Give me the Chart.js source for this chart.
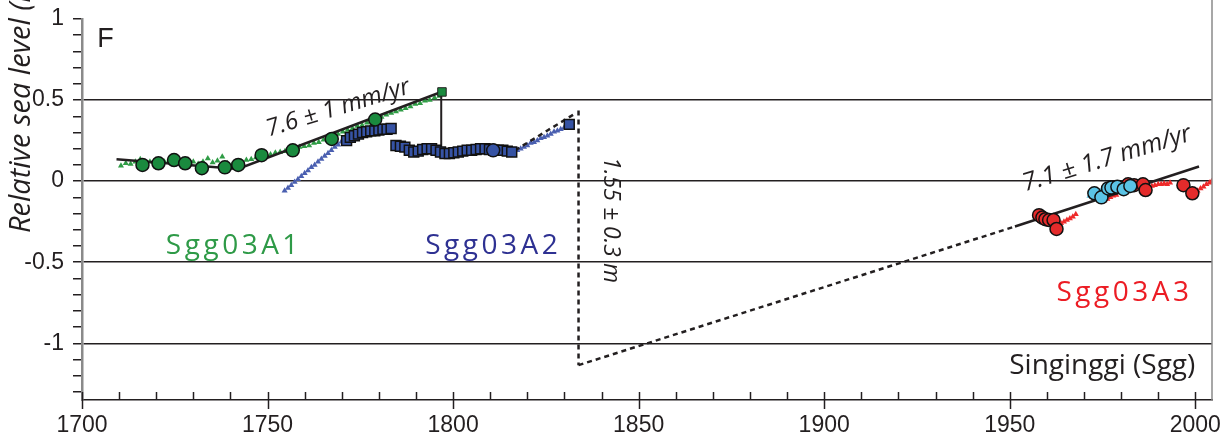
<!DOCTYPE html>
<html>
<head>
<meta charset="utf-8">
<script src="https://cdn.jsdelivr.net/npm/chart.js@4.4.0/dist/chart.umd.min.js"></script>
<style>
body{margin:0;background:#fff;}
</style>
</head>
<body>
<canvas id="myChart" width="1227" height="442"></canvas>
<script>
/** DATA */
// Sgg03A1 (green)
var a1Tri = [[1710.5,0.095],[1711.8,0.11],[1713.1,0.105],[1714.4,0.12],[1715.7,0.135],[1717,0.115],[1718.3,0.12],[1719.6,0.11],[1720.9,0.125],[1722.2,0.12],[1723.5,0.13],[1724.8,0.115],[1726.1,0.125],[1727.4,0.11],[1728.7,0.13],[1730,0.12],[1731.3,0.105],[1732.6,0.12],[1733.9,0.14],[1735.2,0.115],[1736.5,0.125],[1737.8,0.15],[1739.1,0.11],[1740.4,0.10],[1741.7,0.115],[1743,0.12],[1744.3,0.13],[1745.6,0.135],[1746.9,0.145],[1748.2,0.155],[1749.5,0.16],[1750.8,0.165],[1752.1,0.175],[1753.4,0.18],[1754.7,0.185],[1756,0.19],[1757.3,0.20],[1758.6,0.21],[1759.9,0.215],[1761.2,0.22],[1762.5,0.235],[1763.8,0.24],[1765.1,0.255],[1766.4,0.26],[1767.7,0.28],[1769,0.29],[1770.3,0.305],[1771.6,0.315],[1772.9,0.325],[1774.2,0.34],[1775.5,0.345],[1776.8,0.36],[1778.1,0.375],[1779.4,0.385],[1780.7,0.395],[1782,0.41],[1783.3,0.42],[1784.6,0.43],[1785.9,0.44],[1787.2,0.45],[1788.5,0.46],[1789.8,0.475],[1791.1,0.48],[1792.4,0.495],[1793.7,0.50],[1795,0.515],[1796.3,0.525]];
var a1Circ = [[1716.3,0.10],[1720.6,0.11],[1724.8,0.13],[1727.8,0.11],[1732.3,0.08],[1738.5,0.085],[1742.1,0.10],[1748.4,0.16],[1756.8,0.19],[1767.3,0.26],[1779,0.38]];
var a1End = [[1797,0.55]];
// Sgg03A2 (blue)
var a2Tri = [[1754.6,-0.06],[1755.5,-0.042],[1756.4,-0.025],[1757.3,-0.006],[1758.2,0.012],[1759.1,0.03],[1760,0.048],[1760.9,0.065],[1761.8,0.085],[1762.7,0.10],[1763.6,0.12],[1764.5,0.137],[1765.4,0.155],[1766.3,0.172],[1767.2,0.19],[1768.1,0.21],[1769,0.225],[1769.9,0.243],[1770.8,0.26],
  [1817.3,0.19],[1818.2,0.2],[1819.1,0.21],[1820,0.22],[1820.9,0.235],[1821.8,0.24],[1822.7,0.25],[1823.6,0.265],[1824.5,0.27],[1825.4,0.28],[1826.3,0.29],[1827.2,0.305],[1828.1,0.31],[1829,0.32],[1829.9,0.33],[1830.8,0.34]];
var a2Sq = [[1771.3,0.25],[1772.3,0.27],[1773.4,0.28],[1774.5,0.29],[1775.6,0.30],[1776.7,0.305],[1777.8,0.31],[1778.9,0.31],[1780,0.315],[1781.1,0.32],[1782.2,0.32],[1783.3,0.325],
  [1784.6,0.22],[1785.8,0.215],[1787,0.21],[1788.2,0.19],[1789.4,0.18],[1790.6,0.185],[1791.8,0.195],[1793,0.20],[1794.2,0.20],[1795.4,0.19],[1796.6,0.18],[1797.8,0.17],[1799,0.17],[1800.2,0.175],[1801.4,0.18],[1802.6,0.185],[1803.8,0.19],[1805,0.19],[1806.2,0.195],[1807.4,0.20],[1808.6,0.20],[1809.8,0.195],[1811,0.19],[1812.2,0.19],[1813.4,0.19],[1814.6,0.185],[1815.8,0.18],
  [1831.3,0.35]];
var a2Circ = [[1810.8,0.19]];
// Sgg03A3 (red + light blue)
var a3Tri = [[1963.8,-0.26],[1964.6,-0.25],[1965.4,-0.24],[1966.2,-0.23],[1967,-0.22],[1967.8,-0.205],[1975.5,-0.12],[1976.3,-0.11],[1977.1,-0.10],[1977.9,-0.09],[1978.7,-0.085],[1987.5,-0.04],[1988.3,-0.03],[1989.1,-0.025],[1990,-0.02],[1990.8,-0.02],[1991.6,-0.015],[1992.4,-0.02],[1993.2,-0.01],[2000.6,-0.06],[2001.4,-0.045],[2002.2,-0.035],[2003,-0.02],[2003.8,-0.01],[2004.4,0.0]];
var a3Circ = [[1957.9,-0.21],[1958.8,-0.225],[1959.6,-0.235],[1960.6,-0.24],[1961.8,-0.24],[1962.6,-0.295],[1978.5,-0.04],[1981.9,-0.02],[1983.5,-0.025],[1985.9,-0.02],[1986.6,-0.055],[1996.8,-0.025],[1999.2,-0.075]];
var a3Cyan = [[1972.8,-0.075],[1974.7,-0.10],[1976.5,-0.045],[1977.4,-0.04],[1979,-0.035],[1980.7,-0.05],[1982.5,-0.03]];
var a3CyanTri = [[1971.6,-0.09],[1972.4,-0.08],[1973.2,-0.07],[1974,-0.065],[1974.8,-0.055],[1975.6,-0.05],[1980.2,-0.025],[1981,-0.02],[1981.8,-0.015]];
// trends and offsets
var trendA1 = [[1709.3,0.135],[1742,0.075],[1796.8,0.55]];
var dropA2 = [[1796.8,0.55],[1796.8,0.19],[1816.7,0.19]];
var dashA2 = [[1816.7,0.19],[1832.4,0.41]];
var jump = [[1833.8,0.435],[1833.8,-1.135]];
var dashLink = [[1833.8,-1.135],[1951.4,-0.28]];
var trendA3 = [[1951.4,-0.28],[2001,0.09]];
// axes
var xLabels = [1700,1750,1800,1850,1900,1950,2000];
var yLabels = [1,0.5,0,-0.5,-1];
var yGrid = [0.5,0,-0.5,-1];

function pts(a){ return a.map(function(p){ return {x:p[0], y:p[1]}; }); }
function has(list, v){ return list.some(function(l){ return Math.abs(l - v) < 1e-6; }); }

function marks(a, style, r, fill, border, bw){
  return {data:pts(a), showLine:false, pointStyle:style, pointRadius:r, pointHoverRadius:r,
    backgroundColor:fill, borderColor:border, borderWidth:bw};
}
function line(a, w, dash){
  return {data:pts(a), showLine:true, pointRadius:0, pointHoverRadius:0, borderColor:'#231f20',
    borderWidth:w, borderDash:dash || [], tension:0, fill:false};
}

var ink = '#231f20';
var tickFont = {family:'Liberation Sans', size:23};

/** notes, frame and x tick marks */
var extras = {
  id:'extras',
  afterDraw:function(chart){
    var c = chart.ctx, xs = chart.scales.x, ys = chart.scales.y, area = chart.chartArea;
    c.save();
    // right frame
    c.strokeStyle = '#8a8a8a'; c.lineWidth = 1.5;
    c.beginPath(); c.moveTo(area.right, 0); c.lineTo(area.right, area.bottom); c.stroke();
    // x tick marks
    c.strokeStyle = ink; c.lineWidth = 1.5;
    xs.ticks.forEach(function(t){
      var px = Math.round(xs.getPixelForValue(t.value)) + 0.5;
      var big = has(xLabels, t.value);
      c.beginPath(); c.moveTo(px, area.bottom - 8); c.lineTo(px, area.bottom + (big ? 9 : 0)); c.stroke();
    });
    function note(txt, xv, yv, deg, font, color, align, spacing){
      c.save();
      c.translate(xs.getPixelForValue(xv), ys.getPixelForValue(yv));
      c.rotate(deg * Math.PI / 180);
      c.font = font; c.fillStyle = color; c.textAlign = align || 'center'; c.textBaseline = 'middle';
      c.letterSpacing = spacing || '0px';
      c.fillText(txt, 0, 0);
      c.restore();
    }
    note('F', 1704.1, 0.875, 0, '27px "Liberation Sans"', ink, 'left');
    note('7.6 \u00b1 1 mm/yr', 1769, 0.45, -17, 'italic 24px "Open Sans"', ink);
    note('7.1 \u00b1 1.7 mm/yr', 1976.2, 0.1375, -17, 'italic 25px "Open Sans"', ink);
    note('1.55 \u00b1 0.3 m', 1842.4, -0.24, 90, 'italic 23px "Open Sans"', ink);
    note('Sgg03A1', 1722.6, -0.4, 0, '28px "Open Sans"', '#2e9a47', 'left', '3.5px');
    note('Sgg03A2', 1792.5, -0.4, 0, '28px "Open Sans"', '#2e3192', 'left', '3.5px');
    note('Sgg03A3', 1962.6, -0.69, 0, '28px "Open Sans"', '#ec1c24', 'left', '3.5px');
    note('Singinggi (Sgg)', 2000, -1.14, 0, '28px "Open Sans"', ink, 'right');
    // y title (partly off the top, as in the figure)
    c.save();
    c.translate(30, ys.getPixelForValue(-0.32));
    c.rotate(-Math.PI / 2);
    c.font = 'italic 29px "Open Sans"'; c.fillStyle = ink; c.textAlign = 'left'; c.textBaseline = 'alphabetic';
    c.fillText('Relative sea level (m)', 0, 0);
    c.restore();
    c.restore();
  }
};

var myChart = document.getElementById('myChart').getContext('2d');
var chart = new Chart(myChart, {
  type:'scatter',
  data:{
    datasets:[
      marks(a1End, 'rect', 6, '#1a8a3e', ink, 1),
      marks(a1Circ, 'circle', 6.5, '#1a8a3e', '#111', 1.5),
      marks(a2Circ, 'circle', 6.5, '#3653a4', '#111', 1.5),
      marks(a2Sq, 'rect', 7, '#3653a4', '#111', 1.5),
      marks(a3Cyan, 'circle', 6.5, '#5bc4e6', '#111', 1.5),
      marks(a3Circ, 'circle', 6.5, '#e42b2b', '#111', 1.5),
      line(trendA1, 2.5),
      line(dropA2, 2),
      line(dashA2, 2.5, [5,4]),
      line(jump, 2.5, [5,4]),
      line(dashLink, 2.5, [5,4]),
      line(trendA3, 2.5),
      marks(a3CyanTri, 'triangle', 4, '#5bc4e6', '#5bc4e6', 0),
      marks(a1Tri, 'triangle', 3.5, '#2f9c45', '#2f9c45', 0),
      marks(a2Tri, 'triangle', 3.5, '#4a5fb0', '#4a5fb0', 0),
      marks(a3Tri, 'triangle', 3.5, '#ee2a2a', '#ee2a2a', 0)
    ]
  },
  options:{
    responsive:false,
    animation:false,
    layout:{padding:{top:19, right:15, left:0, bottom:0}},
    plugins:{legend:{display:false}, tooltip:{enabled:false}},
    scales:{
      x:{
        type:'linear', min:1700, max:2004.5,
        afterFit:function(s){ s.height = 42; s.paddingLeft = 0; s.paddingRight = 0; },
        grid:{display:false, drawTicks:false},
        border:{display:true, color:ink, width:1.5},
        ticks:{stepSize:10, includeBounds:false, autoSkip:false, maxRotation:0, padding:12,
          color:ink, font:tickFont,
          callback:function(v){ return has(xLabels, v) ? String(v) : ''; }}
      },
      y:{
        type:'linear', min:-1.35, max:1,
        afterFit:function(s){ s.width = 82; s.paddingTop = 0; s.paddingBottom = 0; },
        grid:{
          color:function(ctx){ return ctx.tick && has(yGrid, ctx.tick.value) ? ink : 'rgba(0,0,0,0)'; },
          lineWidth:1.5, tickColor:ink, tickWidth:1.5, tickLength:9, drawTicks:true
        },
        border:{display:true, color:'#8a8a8a', width:2.5},
        ticks:{stepSize:0.1, includeBounds:false, autoSkip:false, padding:9,
          color:ink, font:tickFont,
          callback:function(v){ return has(yLabels, v) ? String(Math.round(v * 10) / 10) : ''; }}
      }
    }
  },
  plugins:[extras]
});
</script>
</body>
</html>
